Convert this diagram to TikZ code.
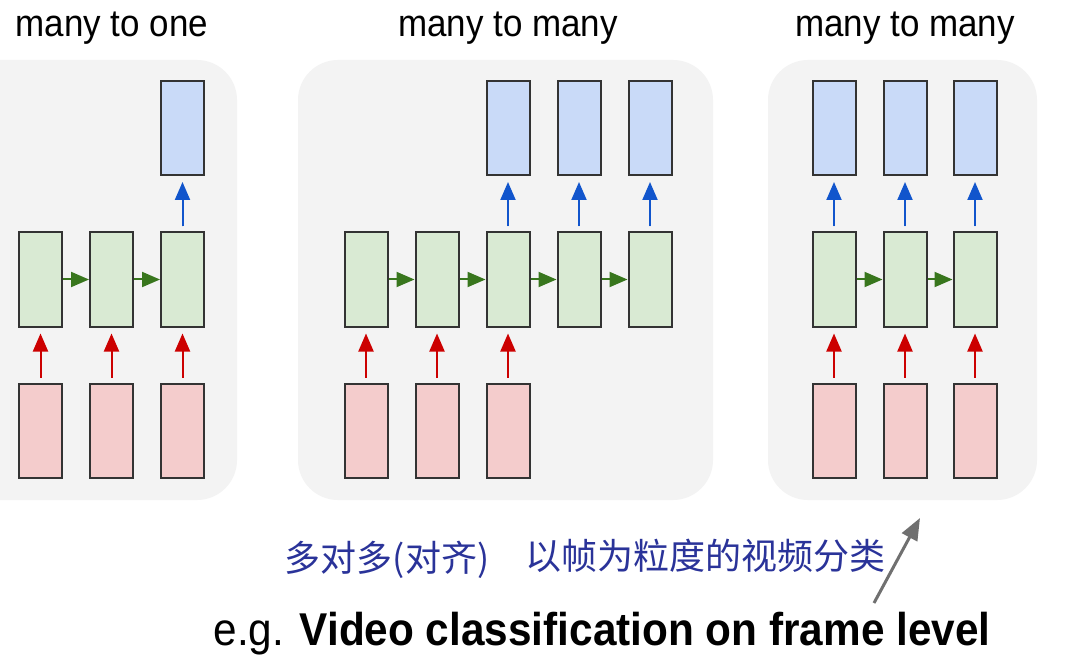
\documentclass[tikz,border=0pt]{standalone}
\usepackage{fontspec}
\setmainfont{Liberation Sans}
\newfontfamily\cjk{Noto Sans CJK SC}
\usetikzlibrary{arrows.meta}
\definecolor{panelbg}{HTML}{F3F3F3}
\definecolor{redfill}{HTML}{F4CCCC}
\definecolor{greenfill}{HTML}{D9EAD3}
\definecolor{bluefill}{HTML}{C9DAF8}
\definecolor{redarrow}{HTML}{CC0000}
\definecolor{greenarrow}{HTML}{38761D}
\definecolor{bluearrow}{HTML}{1155CC}
\definecolor{inkblue}{HTML}{2A3399}
\definecolor{grayarrow}{HTML}{707070}
\definecolor{border}{HTML}{333333}
\tikzset{
  panel/.style={fill=panelbg, draw=none, rounded corners=40pt},
  cell/.style={draw=border, line width=2pt, minimum width=43pt, minimum height=94pt, inner sep=0pt},
  inp/.style={cell, fill=redfill},
  hid/.style={cell, fill=greenfill},
  outp/.style={cell, fill=bluefill},
  tip/.style={-{Triangle[length=18pt,width=15pt]}},
  redarr/.style={tip, draw=redarrow, fill=redarrow, line width=2pt, shorten <=5pt, shorten >=6pt},
  bluearr/.style={tip, draw=bluearrow, fill=bluearrow, line width=2pt, shorten <=5pt, shorten >=6pt},
  greenarr/.style={tip, draw=greenarrow, fill=greenarrow, line width=2pt},
  title/.style={anchor=base, inner sep=0pt, font=\fontsize{38}{40}\selectfont},
  hand/.style={anchor=center, inner sep=0pt, text=inkblue, font=\cjk\fontsize{36}{38}\selectfont},
}
\begin{document}
\begin{tikzpicture}[x=1pt,y=-1pt]
\useasboundingbox[fill=white] (0,0) rectangle (1069,663);
% panels
\fill[panel] (-40,60) rectangle (237,500);
\fill[panel] (298,60) rectangle (713,500);
\fill[panel] (768,60) rectangle (1037,500);
% titles
\node[title] (t1) at (112,37) {\scalebox{0.92}[1]{many to one}};
\node[title] (t2) at (508,37) {\scalebox{0.92}[1]{many to many}};
\node[title] (t3) at (905,37) {\scalebox{0.92}[1]{many to many}};
% panel 1
\foreach \i/\x in {1/40.5,2/111.5,3/182.5}{
  \node[inp] (a\i r) at (\x,430.5) {};
  \node[hid] (a\i h) at (\x,279.5) {};
}
\node[outp] (a3o) at (182.5,128) {};
\foreach \i in {1,2,3}{ \draw[redarr] (a\i r.north) -- (a\i h.south); }
\draw[greenarr] (a1h.east) -- (a2h.west);
\draw[greenarr] (a2h.east) -- (a3h.west);
\draw[bluearr] (a3h.north) -- (a3o.south);
% panel 2
\foreach \i/\x in {1/366,2/437,3/508,4/579,5/650}{
  \node[hid] (b\i h) at (\x,279.5) {};
}
\foreach \i/\x in {1/366,2/437,3/508}{
  \node[inp] (b\i r) at (\x,430.5) {};
}
\foreach \i/\x in {3/508,4/579,5/650}{
  \node[outp] (b\i o) at (\x,128) {};
}
\foreach \i in {1,2,3}{ \draw[redarr] (b\i r.north) -- (b\i h.south); }
\foreach \i/\j in {1/2,2/3,3/4,4/5}{ \draw[greenarr] (b\i h.east) -- (b\j h.west); }
\foreach \i in {3,4,5}{ \draw[bluearr] (b\i h.north) -- (b\i o.south); }
% panel 3
\foreach \i/\x in {1/834,2/905,3/975}{
  \node[inp] (c\i r) at (\x,430.5) {};
  \node[hid] (c\i h) at (\x,279.5) {};
  \node[outp] (c\i o) at (\x,128) {};
}
\foreach \i in {1,2,3}{
  \draw[redarr] (c\i r.north) -- (c\i h.south);
  \draw[bluearr] (c\i h.north) -- (c\i o.south);
}
\draw[greenarr] (c1h.east) -- (c2h.west);
\draw[greenarr] (c2h.east) -- (c3h.west);
% handwritten note
\node[hand] (n1) at (387,560) {多对多(对齐)};
\node[hand] (n2) at (705,556) {以帧为粒度的视频分类};
\coordinate (gtail) at (874,603);
\coordinate (ghead) at (920,518);
\draw[grayarrow, line width=3pt, -{Triangle[length=22pt,width=17pt]}] (gtail) -- (ghead);
% bottom caption
\node[anchor=base, inner sep=0pt, font=\fontsize{46}{48}\selectfont] (cap) at (602,645)
  {\scalebox{0.92}[1]{e.g. \textbf{Video classification on frame level}}};
\end{tikzpicture}
\end{document}
